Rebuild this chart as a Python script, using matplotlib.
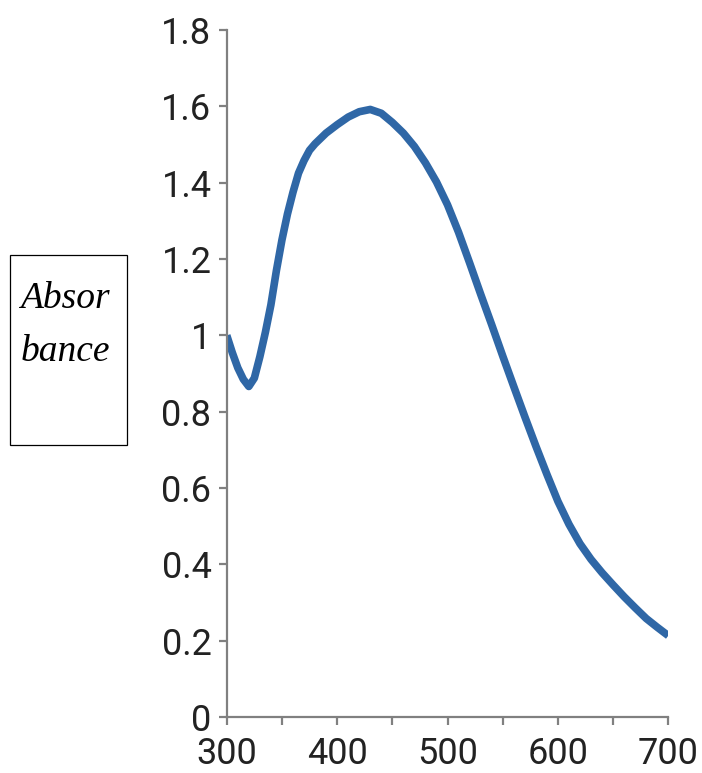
import matplotlib
matplotlib.use('Agg')
import matplotlib.pyplot as plt
from matplotlib.patches import Rectangle
from matplotlib.ticker import FuncFormatter

# absorbance spectrum
wavelength = [300, 305, 310, 315, 320, 325, 330, 335, 340, 345, 350, 355,
              360, 365, 370, 375, 380, 390, 400, 410, 420, 430, 440, 450,
              460, 470, 480, 490, 500, 510, 520, 530, 540, 550, 560, 570,
              580, 590, 600, 610, 620, 630, 640, 650, 660, 670, 680, 690,
              700]
absorbance = [1.00, 0.955, 0.915, 0.885, 0.866, 0.888, 0.944, 1.008, 1.08,
              1.17, 1.25, 1.318, 1.375, 1.425, 1.458, 1.485, 1.502, 1.530,
              1.552, 1.572, 1.586, 1.592, 1.582, 1.558, 1.530, 1.495, 1.452,
              1.402, 1.342, 1.27, 1.19, 1.108, 1.028, 0.946, 0.866, 0.787,
              0.71, 0.636, 0.565, 0.505, 0.454, 0.413, 0.378, 0.346, 0.315,
              0.286, 0.258, 0.235, 0.213]

x_major = [300, 400, 500, 600, 700]
x_minor = [350, 450, 550, 650]
y_ticks = [0, 0.2, 0.4, 0.6, 0.8, 1.0, 1.2, 1.4, 1.6, 1.8]

LINE = '#2f67a6'
AXC = '#808080'
INK = '#222222'

fig = plt.figure(figsize=(7.02, 7.73), dpi=100)
ax = fig.add_axes([0.323, 0.0725, 0.629, 0.8886])

ax.plot(wavelength, absorbance, color=LINE, lw=5.5, solid_capstyle='butt',
        solid_joinstyle='round')

ax.set_xlim(300, 700)
ax.set_ylim(0, 1.8)
ax.set_xticks(x_major)
ax.set_xticks(x_minor, minor=True)
ax.set_yticks(y_ticks)
ax.yaxis.set_major_formatter(FuncFormatter(lambda v, p: f'{v:g}'))

for sp in ('top', 'right'):
    ax.spines[sp].set_visible(False)
for sp in ('left', 'bottom'):
    ax.spines[sp].set_color(AXC)
    ax.spines[sp].set_linewidth(1.6)

ax.tick_params(axis='both', which='both', direction='out', color=AXC,
               width=1.6, length=6, labelcolor=INK)
ax.tick_params(axis='both', which='major', labelsize=26)
ax.tick_params(axis='y', which='major', pad=5)
ax.tick_params(axis='x', which='major', pad=8)
ax.tick_params(axis='x', which='minor', labelbottom=False)
for lab in ax.get_xticklabels() + ax.get_yticklabels():
    lab.set_family('Roboto')

# boxed y label
fig.add_artist(Rectangle((10 / 702, 1 - 445 / 773), 117 / 702, 190 / 773,
                         transform=fig.transFigure, fill=False,
                         edgecolor='black', lw=0.9))
fig.text(20 / 702, 1 - 308 / 773, 'Absor', ha='left', va='baseline',
         fontsize=27, style='italic', family='Liberation Serif', color='black')
fig.text(21 / 702, 1 - 361 / 773, 'bance', ha='left', va='baseline',
         fontsize=27, style='italic', family='Liberation Serif', color='black')

fig.savefig('out.png', dpi=100)
